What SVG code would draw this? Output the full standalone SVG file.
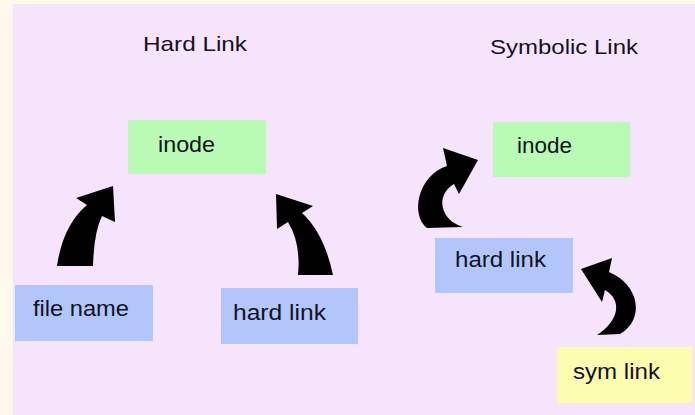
<svg xmlns="http://www.w3.org/2000/svg" width="695" height="415" viewBox="0 0 695 415">
<style>
.t{font-family:"Liberation Sans",Arial,sans-serif;font-size:22px;fill:#121222}
.title{font-family:"Liberation Sans",Arial,sans-serif;font-size:21px;fill:#121222}
.green{fill:#b9fbb4}
.blue{fill:#b3c6fb}
.yellow{fill:#fdfdaf}
.arrow{fill:#000}
</style>
<rect x="0" y="0" width="695" height="415" fill="#fef9ec"/>
<rect x="13" y="4" width="682" height="411" fill="#f6e4fc"/>
<text class="title" x="143" y="51" textLength="104" lengthAdjust="spacingAndGlyphs">Hard Link</text>
<text class="title" x="490" y="54" textLength="148" lengthAdjust="spacingAndGlyphs">Symbolic Link</text>
<g id="inode-hard">
<rect class="green" x="128" y="120" width="138" height="54"/>
<text class="t" x="158" y="152" textLength="57" lengthAdjust="spacingAndGlyphs">inode</text>
</g>
<g id="filename">
<rect class="blue" x="15" y="285" width="138" height="56"/>
<text class="t" x="33" y="316" textLength="96" lengthAdjust="spacingAndGlyphs">file name</text>
</g>
<g id="hardlink-left">
<rect class="blue" x="221" y="288" width="137" height="56"/>
<text class="t" x="233" y="320" textLength="93" lengthAdjust="spacingAndGlyphs">hard link</text>
</g>
<g id="inode-sym">
<rect class="green" x="493" y="122" width="137" height="55"/>
<text class="t" x="517" y="153" textLength="55" lengthAdjust="spacingAndGlyphs">inode</text>
</g>
<g id="hardlink-right">
<rect class="blue" x="435" y="238" width="138" height="55"/>
<text class="t" x="455" y="267" textLength="91" lengthAdjust="spacingAndGlyphs">hard link</text>
</g>
<g id="symlink">
<rect class="yellow" x="557" y="347" width="135" height="56"/>
<text class="t" x="573" y="379" textLength="87" lengthAdjust="spacingAndGlyphs">sym link</text>
</g>
<g id="connectors">
<path class="arrow" d="M57 266 L93 266 Q94 232 102 216 L115 222 L113 186 L76 198 L87 205 Q63 225 57 266 Z"/>
<path class="arrow" d="M298 275 L333 275 Q324 233 302 213 L313 206 L276 194 L277 229 L288 222 Q301 243 298 275 Z"/>
<path class="arrow" d="M427 228 L463 227 C440 220 435 195 454 184 L459 194 L478 160 L443 148 L447 166 C418 175 410 215 427 228 Z"/>
<path class="arrow" d="M597 335 L620 334 C645 320 640 285 609 272 L612 258 L581 269 L602 302 L605 290 C622 300 620 320 597 335 Z"/>
</g>
</svg>
